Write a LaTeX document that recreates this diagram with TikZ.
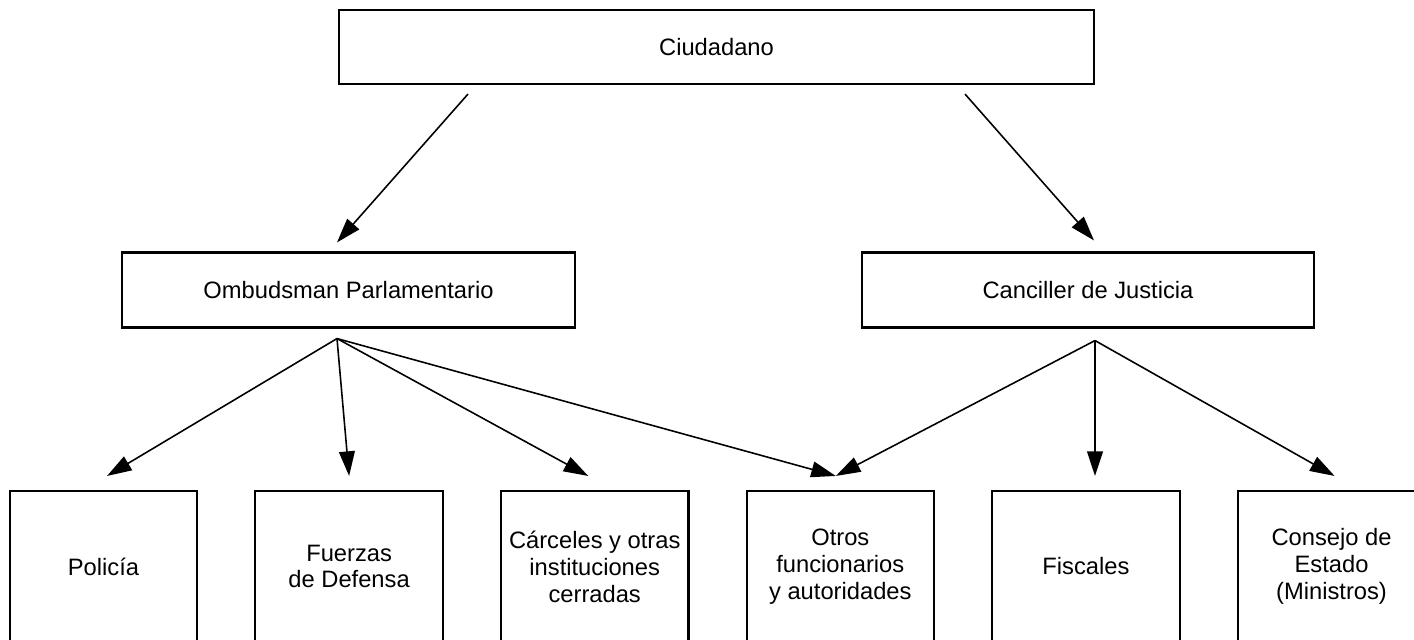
\documentclass[tikz,border=0pt]{standalone}
\usepackage{fontspec}
\setmainfont{Liberation Sans}
\usepackage{tikz}
\usetikzlibrary{calc,positioning,arrows.meta}

\tikzset{
  topbox/.style={draw, line width=1.2pt, minimum width=9.05cm, minimum height=1.5cm,
                 font=\fontsize{13.5}{15.1}\selectfont},
  unit/.style={draw, line width=1.2pt, minimum width=3.75cm, minimum height=3.02cm,
               align=center, font=\fontsize{13.5}{15.3}\selectfont},
  link/.style={line width=0.9pt, -{Triangle[length=14pt,width=9pt]}}
}

\begin{document}
\begin{tikzpicture}
    \useasboundingbox (0,0) rectangle (28.28,-12.78);

    % top levels
    \node[topbox, minimum width=15.1cm, minimum height=1.48cm] (ciudadano) at (14.33,-0.94) {Ciudadano};
    \node[topbox] (ombudsman) at (6.97,-5.8) {Ombudsman Parlamentario};
    \node[topbox] (canciller) at (21.76,-5.8) {Canciller de Justicia};

    % bottom row
    \node[unit] (policia) at (2.07,-11.33) {Policía};
    \node[unit, right=1.12cm of policia] (fuerzas) {Fuerzas\\de Defensa};
    \node[unit, right=1.12cm of fuerzas] (carceles) {Cárceles y otras\\instituciones\\cerradas};
    \node[unit, right=1.12cm of carceles] (otros) {Otros\\funcionarios\\y autoridades};
    \node[unit, right=1.12cm of otros] (fiscales) {Fiscales};
    \node[unit, right=1.12cm of fiscales] (consejo) {Consejo de\\Estado\\(Ministros)};

    % fan points
    \coordinate (ombfan) at ($(ombudsman.south)+(-0.23,-0.2)$);
    \coordinate (canfan) at ($(canciller.south)+(0.14,-0.24)$);

    % arrows from ciudadano
    \draw[link] ($(ciudadano.south)+(-4.97,-0.18)$) -- ($(ombudsman.north)+(-0.23,0.18)$);
    \draw[link] ($(ciudadano.south)+(4.97,-0.18)$) -- ($(canciller.north)+(0.12,0.22)$);

    % arrows from ombudsman
    \draw[link] (ombfan) -- ($(policia.north)+(0.07,0.28)$);
    \draw[link] (ombfan) -- ($(fuerzas.north)+(0,0.28)$);
    \draw[link] (ombfan) -- ($(carceles.north)+(-0.13,0.28)$);
    \draw[link] (ombfan) -- ($(otros.north)+(-0.09,0.28)$);

    % arrows from canciller
    \draw[link] (canfan) -- ($(otros.north)+(-0.09,0.28)$);
    \draw[link] (canfan) -- ($(canfan |- fiscales.north)+(0,0.28)$);
    \draw[link] (canfan) -- ($(consejo.north)+(0.06,0.28)$);
\end{tikzpicture}
\end{document}
